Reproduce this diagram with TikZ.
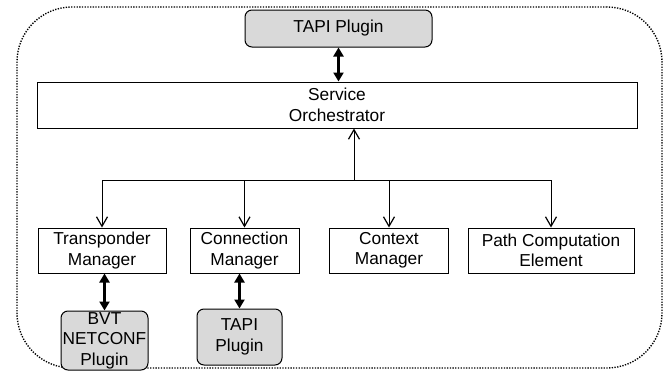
\documentclass[tikz,border=0pt]{standalone}
\usepackage{fontspec}
\setmainfont{Liberation Sans}
\usetikzlibrary{arrows.meta}

\tikzset{
  box/.style={draw, line width=1pt, fill=white, inner sep=0pt, align=center,
    font=\fontsize{17.3}{20.5}\selectfont},
  plugin/.style={box, fill=black!15, rounded corners=7pt},
  frame/.style={draw, line width=1.4pt, dash pattern=on 1.3pt off 1.4pt,
    rounded corners=55pt, inner sep=0pt},
  link/.style={line width=1pt, -{Straight Barb[angle=60:11pt, line width=1.2pt]}},
  bus/.style={line width=1pt},
  duplex/.style={line width=2.4pt,
    {Triangle[length=9pt,width=10pt]}-{Triangle[length=9pt,width=10pt]}}
}

\begin{document}
\begin{tikzpicture}[x=1pt, y=-1pt]
  \useasboundingbox (0,0) rectangle (665,372);

  % dotted boundary of the controller
  \node[frame, minimum width=645pt, minimum height=361pt] (ctrl) at (339.5,187.5) {};

  % northbound plugin and orchestrator
  \node[plugin, minimum width=187pt, minimum height=37pt] (tapiN) at (338.5,28.5) {TAPI Plugin};
  \node[box, minimum width=600pt, minimum height=46pt] (so) at (337,105) {Service\\Orchestrator};

  % managers
  \node[box, minimum width=128pt, minimum height=45pt] (tm)  at (102,250.5)   {Transponder\\Manager};
  \node[box, minimum width=109pt, minimum height=45pt] (cm)  at (244.5,250.5) {Connection\\Manager};
  \node[box, minimum width=119pt, minimum height=45pt] (ctx) at (389,250.5)   {Context\\Manager};
  \node[box, minimum width=166pt, minimum height=45pt] (pce) at (551,250.5)   {Path Computation\\Element};

  % southbound plugins
  \node[plugin, minimum width=87pt, minimum height=59pt] (bvt)   at (104.5,340.5) {BVT\\NETCONF\\Plugin};
  \node[plugin, minimum width=85pt, minimum height=56pt] (tapiS) at (239.5,337)   {TAPI\\Plugin};

  % orchestrator fan-out
  \coordinate (hub) at (354,180);
  \draw[link] (hub) -- (so.south -| hub);
  \draw[bus] (tm.north |- hub) -- (pce.north |- hub);
  \draw[link] (tm.north |- hub) -- (tm.north);
  \draw[link] (cm.north |- hub) -- (cm.north);
  \draw[link] (ctx.north |- hub) -- (ctx.north);
  \draw[link] (pce.north |- hub) -- (pce.north);

  % bidirectional plugin interfaces
  \draw[duplex] (tapiN.south) -- (so.north -| tapiN.south);
  \draw[duplex] (tm.south -| bvt.north) -- (bvt.north);
  \draw[duplex] (cm.south -| tapiS.north) -- (tapiS.north);
\end{tikzpicture}
\end{document}
